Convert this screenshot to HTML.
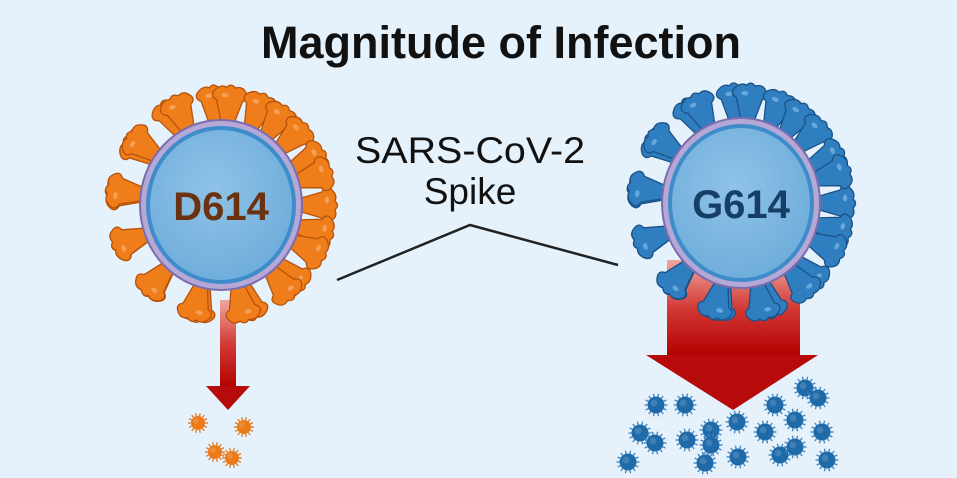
<!DOCTYPE html>
<html><head><meta charset="utf-8"><style>
html,body{margin:0;padding:0;background:#e6f2fb;}
svg{display:block}
</style></head><body>
<svg id="s" width="957" height="478" viewBox="0 0 957 478" xmlns="http://www.w3.org/2000/svg">
<defs>
<linearGradient id="ar" x1="0" y1="0" x2="0" y2="1"><stop offset="0" stop-color="#f1a6a0"/><stop offset="0.5" stop-color="#d33a35"/><stop offset="1" stop-color="#b20000"/></linearGradient>
<radialGradient id="bl" cx="0.45" cy="0.4" r="0.7"><stop offset="0" stop-color="#8fc3e8"/><stop offset="1" stop-color="#6aaad9"/></radialGradient>
</defs>
<rect width="957" height="478" fill="#e6f2fb"/>
<text x="501" y="58" text-anchor="middle" font-family="Liberation Sans, sans-serif" font-weight="bold" font-size="45" fill="#111">Magnitude of Infection</text>
<text x="470" y="163" text-anchor="middle" font-family="Liberation Sans, sans-serif" font-size="37" fill="#111" textLength="230" lengthAdjust="spacingAndGlyphs">SARS-CoV-2</text>
<text x="470" y="204" text-anchor="middle" font-family="Liberation Sans, sans-serif" font-size="37" fill="#111">Spike</text>
<polyline points="337,280 470,225 618,265" fill="none" stroke="#222" stroke-width="2.5"/>
<rect x="220" y="300" width="16" height="88" fill="url(#ar)"/>
<polygon points="206,386 250,386 228,410" fill="#b70a0a"/>
<rect x="667" y="260" width="133" height="96" fill="url(#ar)"/>
<polygon points="646,355 818,355 733,410" fill="#b70a0a"/>
<g id="viruses"></g>
<text x="221" y="220" text-anchor="middle" font-family="Liberation Sans, sans-serif" font-weight="bold" font-size="40" fill="#6b3212">D614</text>
<text x="741" y="218" text-anchor="middle" font-family="Liberation Sans, sans-serif" font-weight="bold" font-size="40" fill="#163e66">G614</text>
</svg>
<script>
var NS="http://www.w3.org/2000/svg",g=document.getElementById("viruses");
function el(t,a,p){var e=document.createElementNS(NS,t);for(var k in a)e.setAttribute(k,a[k]);(p||g).appendChild(e);return e;}
function big(cx,cy,rx,ry,fill,dark,hl){
  var n=26;
  for(var i=0;i<n;i++){
    var a=i/n*Math.PI*2+0.12*Math.sin(i*3);
    var x=cx+Math.cos(a)*rx*0.95,y=cy+Math.sin(a)*ry*0.95;
    var deg=a*180/Math.PI+90;
    var grp=el("g",{transform:"translate("+x+","+y+") rotate("+deg+")"});
    el("path",{d:"M-6,0 L-13,-24 Q-20,-27 -16,-33 Q-10,-40 -4,-37 Q0,-42 5,-37 Q12,-40 16,-33 Q20,-27 13,-24 L6,0 Z",fill:fill,stroke:dark,"stroke-width":1.3},grp);
    el("ellipse",{cx:-5,cy:-29,rx:3.5,ry:2.2,fill:hl,opacity:0.7},grp);
  }
  el("ellipse",{cx:cx,cy:cy,rx:rx,ry:ry,fill:"#b6a8d6",stroke:"#7b6cae","stroke-width":2});
  el("ellipse",{cx:cx,cy:cy,rx:rx-8,ry:ry-8,fill:"url(#bl)",stroke:"#3f8ccb","stroke-width":4});
}
big(221,205,81,85,"#ef7d1a","#b6520a","#f7b070");
big(741,203,79,85,"#2f7fc0","#1a5287","#7fb8e6");
function small(cx,cy,r,fill,spk){
  for(var i=0;i<14;i++){var a=i/14*Math.PI*2;
    el("line",{x1:cx+Math.cos(a)*r,y1:cy+Math.sin(a)*r,x2:cx+Math.cos(a)*(r+3),y2:cy+Math.sin(a)*(r+3),stroke:spk,"stroke-width":1.3});}
  el("circle",{cx:cx,cy:cy,r:r,fill:fill});
  el("circle",{cx:cx-2,cy:cy-2,r:r*0.4,fill:"#fff",opacity:0.15});
}
[[198,423],[244,427],[215,452],[232,458]].forEach(function(p){small(p[0],p[1],7,"#ec7a18","#e07520");});
[[656,405],[685,405],[640,433],[655,443],[687,440],[711,430],[711,445],[705,463],[737,422],[765,432],[775,405],[795,420],[805,388],[818,398],[738,457],[780,455],[795,447],[822,432],[827,460],[628,462]].forEach(function(p){small(p[0],p[1],8.5,"#1f6aa8","#3a82c0");});
</script>
</body></html>
